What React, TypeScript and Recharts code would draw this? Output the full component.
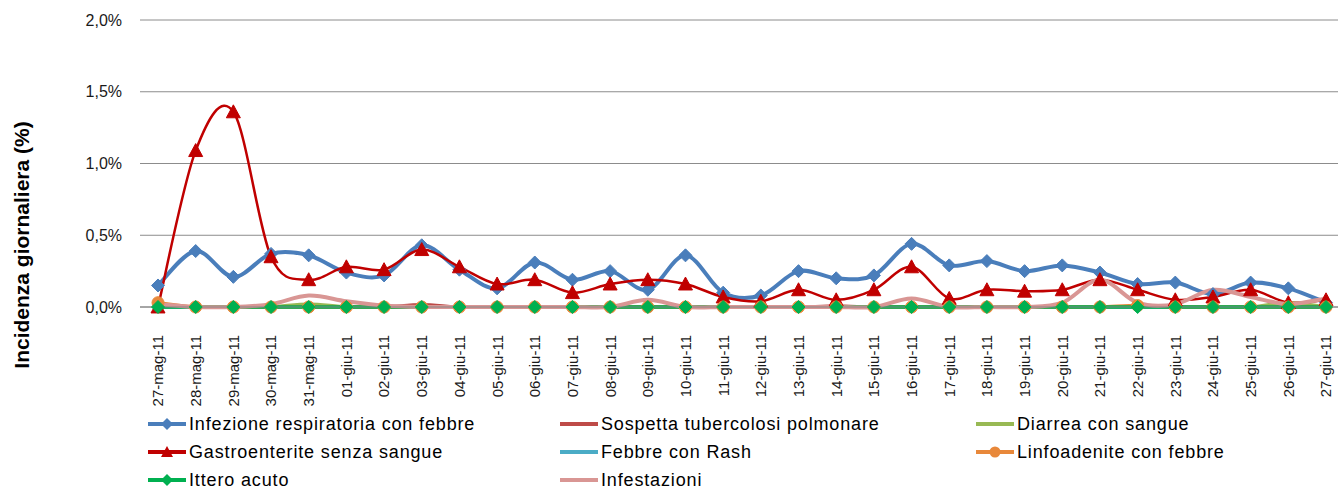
import React from 'react';
import { LineChart, Line, XAxis, YAxis, CartesianGrid } from 'recharts';

const dates = [
  '27-mag-11', '28-mag-11', '29-mag-11', '30-mag-11', '31-mag-11',
  '01-giu-11', '02-giu-11', '03-giu-11', '04-giu-11', '05-giu-11', '06-giu-11', '07-giu-11',
  '08-giu-11', '09-giu-11', '10-giu-11', '11-giu-11', '12-giu-11', '13-giu-11', '14-giu-11',
  '15-giu-11', '16-giu-11', '17-giu-11', '18-giu-11', '19-giu-11', '20-giu-11', '21-giu-11',
  '22-giu-11', '23-giu-11', '24-giu-11', '25-giu-11', '26-giu-11', '27-giu-11',
];

const infezione = [0.15, 0.39, 0.21, 0.37, 0.36, 0.24, 0.22, 0.43, 0.26, 0.13, 0.31, 0.19, 0.25, 0.12, 0.36, 0.10, 0.08, 0.25, 0.20, 0.22, 0.44, 0.29, 0.32, 0.25, 0.29, 0.24, 0.16, 0.17, 0.09, 0.17, 0.13, 0.03];
const sospetta = [0, 0, 0, 0, 0, 0, 0, 0.02, 0, 0, 0, 0, 0, 0, 0, 0, 0, 0, 0.01, 0, 0, 0, 0, 0, 0, 0, 0, 0, 0, 0, 0, 0];
const diarrea = [0, 0, 0, 0, 0.02, 0, 0, 0, 0, 0, 0, 0, 0, 0, 0, 0, 0, 0, 0, 0, 0, 0, 0, 0, 0, 0, 0, 0, 0, 0, 0.03, 0];
const gastro = [0, 1.09, 1.36, 0.35, 0.19, 0.28, 0.26, 0.40, 0.28, 0.16, 0.19, 0.10, 0.16, 0.19, 0.16, 0.07, 0.04, 0.12, 0.05, 0.12, 0.28, 0.06, 0.12, 0.11, 0.12, 0.19, 0.12, 0.05, 0.07, 0.12, 0.03, 0.05];
const febbreRash = [0, 0, 0, 0, 0, 0, 0, 0, 0, 0, 0, 0, 0, 0, 0, 0, 0, 0, 0, 0, 0, 0, 0, 0, 0, 0, 0, 0, 0, 0, 0, 0];
const linfo = [0.03, 0, 0, 0, 0, 0, 0, 0, 0, 0, 0, 0, 0, 0, 0, 0, 0, 0, 0, 0, 0, 0, 0, 0, 0, 0, 0.01, 0, 0, 0, 0, 0];
const ittero = [0, 0, 0, 0, 0, 0, 0, 0, 0, 0, 0, 0, 0, 0, 0, 0, 0, 0, 0, 0, 0, 0, 0, 0, 0, 0, 0, 0, 0, 0, 0, 0];
const infestazioni = [0.02, 0, 0, 0.02, 0.08, 0.04, 0.01, 0, 0, 0, 0, 0, 0, 0.05, 0, 0, 0, 0, 0, 0, 0.06, 0, 0, 0, 0.03, 0.19, 0.03, 0.02, 0.12, 0.07, 0.02, 0.06];

const yTicks = [0, 0.5, 1, 1.5, 2];

const data = dates.map((d, i) => ({
  date: d,
  infezione: infezione[i],
  sospetta: sospetta[i],
  diarrea: diarrea[i],
  gastro: gastro[i],
  febbreRash: febbreRash[i],
  linfo: linfo[i],
  ittero: ittero[i],
  infestazioni: infestazioni[i],
}));

// Excel-like smoothing (catmull-rom style bezier)
const excelCurve: any = (context: any) => {
  let pts: number[][] = [];
  return {
    areaStart() {},
    areaEnd() {},
    lineStart() { pts = []; },
    point(x: number, y: number) { pts.push([+x, +y]); },
    lineEnd() {
      if (!pts.length) return;
      context.moveTo(pts[0][0], pts[0][1]);
      for (let i = 0; i < pts.length - 1; i++) {
        const p0 = pts[i - 1] || pts[i];
        const p1 = pts[i];
        const p2 = pts[i + 1];
        const p3 = pts[i + 2] || p2;
        context.bezierCurveTo(
          p1[0] + (p2[0] - p0[0]) / 6, p1[1] + (p2[1] - p0[1]) / 6,
          p2[0] - (p3[0] - p1[0]) / 6, p2[1] - (p3[1] - p1[1]) / 6,
          p2[0], p2[1]
        );
      }
    },
  };
};

const diamondDot = (color: string, r: number) => (props: any) => {
  const { cx, cy, index } = props;
  if (cx == null || cy == null) return <g key={`dd-${index}`} />;
  return (
    <path key={`dd-${color}-${index}`} d={`M${cx},${cy - r}L${cx + r},${cy}L${cx},${cy + r}L${cx - r},${cy}Z`} fill={color} stroke={color} />
  );
};

const triangleDot = (color: string, r: number) => (props: any) => {
  const { cx, cy, index } = props;
  if (cx == null || cy == null) return <g key={`td-${index}`} />;
  return (
    <path key={`td-${index}`} d={`M${cx},${cy - r}L${cx + r},${cy + r * 0.85}L${cx - r},${cy + r * 0.85}Z`} fill={color} stroke={color} />
  );
};

const circleDot = (color: string, r: number) => (props: any) => {
  const { cx, cy, index } = props;
  if (cx == null || cy == null) return <g key={`cd-${index}`} />;
  return <circle key={`cd-${index}`} cx={cx} cy={cy} r={r} fill={color} stroke={color} />;
};

const XTick = (props: any) => {
  const { x, y, payload } = props;
  return (
    <g transform={`translate(${x},${y})`}>
      <text transform="rotate(-90)" textAnchor="end" dy="0.36em" fontSize={15} fill="#1a1a1a" fontFamily="Liberation Sans, Arial, sans-serif">
        {payload.value}
      </text>
    </g>
  );
};

const legendItems = [
  { name: 'Infezione respiratoria con febbre', color: '#4A7EBB', marker: 'diamond' },
  { name: 'Sospetta tubercolosi polmonare', color: '#BE4B48', marker: 'none' },
  { name: 'Diarrea con sangue', color: '#98B954', marker: 'none' },
  { name: 'Gastroenterite senza sangue', color: '#C00000', marker: 'triangle' },
  { name: 'Febbre con Rash', color: '#4BACC6', marker: 'none' },
  { name: 'Linfoadenite con febbre', color: '#E8883A', marker: 'circle' },
  { name: 'Ittero acuto', color: '#00B050', marker: 'diamond' },
  { name: 'Infestazioni', color: '#D99694', marker: 'none' },
];

const LegendIcon = ({ color, marker }: { color: string; marker: string }) => (
  <svg width={40} height={14} style={{ display: 'block' }}>
    <line x1={1} y1={7} x2={39} y2={7} stroke={color} strokeWidth={4} />
    {marker === 'diamond' && <path d="M20,1L26,7L20,13L14,7Z" fill={color} />}
    {marker === 'triangle' && <path d="M20,1L26,12L14,12Z" fill={color} />}
    {marker === 'circle' && <circle cx={20} cy={7} r={5.5} fill={color} />}
  </svg>
);

const colX = [147, 559, 975];

export default function App() {
  return (
    <div style={{ position: 'absolute', left: 0, top: 0, width: 1338, height: 491, background: '#fff', overflow: 'hidden' }}>
      <LineChart width={1338} height={491} data={data} margin={{ top: 20, right: 0, left: 0, bottom: 74 }}>
        <CartesianGrid vertical={false} stroke="#8c8c8c" />
        <XAxis
          dataKey="date"
          interval={0}
          height={110}
          padding={{ left: 18, right: 12 }}
          tickLine={false}
          tickMargin={22}
          axisLine={{ stroke: '#868686' }}
          tick={<XTick />}
        />
        <YAxis
          domain={[0, 2]}
          ticks={yTicks}
          width={140}
          axisLine={false}
          tickLine={false}
          tickMargin={12}
          tickFormatter={(v: number) => `${v.toFixed(1).replace('.', ',')}%`}
          tick={{ fontSize: 16, fill: '#1a1a1a', fontFamily: 'Liberation Sans, Arial, sans-serif' }}
        />
        <Line dataKey="infezione" type={excelCurve} stroke="#4A7EBB" strokeWidth={4} dot={diamondDot('#4A7EBB', 6.5)} activeDot={false} isAnimationActive={false} />
        <Line dataKey="sospetta" type={excelCurve} stroke="#BE4B48" strokeWidth={2.5} dot={false} activeDot={false} isAnimationActive={false} />
        <Line dataKey="diarrea" type={excelCurve} stroke="#98B954" strokeWidth={3.5} dot={false} activeDot={false} isAnimationActive={false} />
        <Line dataKey="gastro" type={excelCurve} stroke="#C00000" strokeWidth={2.5} dot={triangleDot('#C00000', 7)} activeDot={false} isAnimationActive={false} />
        <Line dataKey="febbreRash" type={excelCurve} stroke="#4BACC6" strokeWidth={3.5} dot={false} activeDot={false} isAnimationActive={false} />
        <Line dataKey="linfo" type={excelCurve} stroke="#E8883A" strokeWidth={3.5} dot={circleDot('#E8883A', 6)} activeDot={false} isAnimationActive={false} />
        <Line dataKey="ittero" type={excelCurve} stroke="#00B050" strokeWidth={3.5} dot={diamondDot('#00B050', 6.5)} activeDot={false} isAnimationActive={false} />
        <Line dataKey="infestazioni" type={excelCurve} stroke="#D99694" strokeWidth={4} dot={false} activeDot={false} isAnimationActive={false} />
      </LineChart>

      <div
        style={{
          position: 'absolute', left: 22, top: 245, transform: 'translate(-50%, -50%) rotate(-90deg)',
          fontFamily: 'Liberation Sans, Arial, sans-serif', fontWeight: 'bold', fontSize: 21, whiteSpace: 'nowrap', color: '#000',
        }}
      >
        Incidenza giornaliera (%)
      </div>

      {legendItems.map((item, i) => (
        <div
          key={item.name}
          style={{
            position: 'absolute', left: colX[i % 3], top: 424 + Math.floor(i / 3) * 28 - 12, height: 24,
            display: 'flex', alignItems: 'center', whiteSpace: 'nowrap',
            fontFamily: 'Liberation Sans, Arial, sans-serif', fontSize: 18, letterSpacing: 0.85, color: '#000',
          }}
        >
          <LegendIcon color={item.color} marker={item.marker} />
          <span style={{ marginLeft: 2 }}>{item.name}</span>
        </div>
      ))}
    </div>
  );
}
